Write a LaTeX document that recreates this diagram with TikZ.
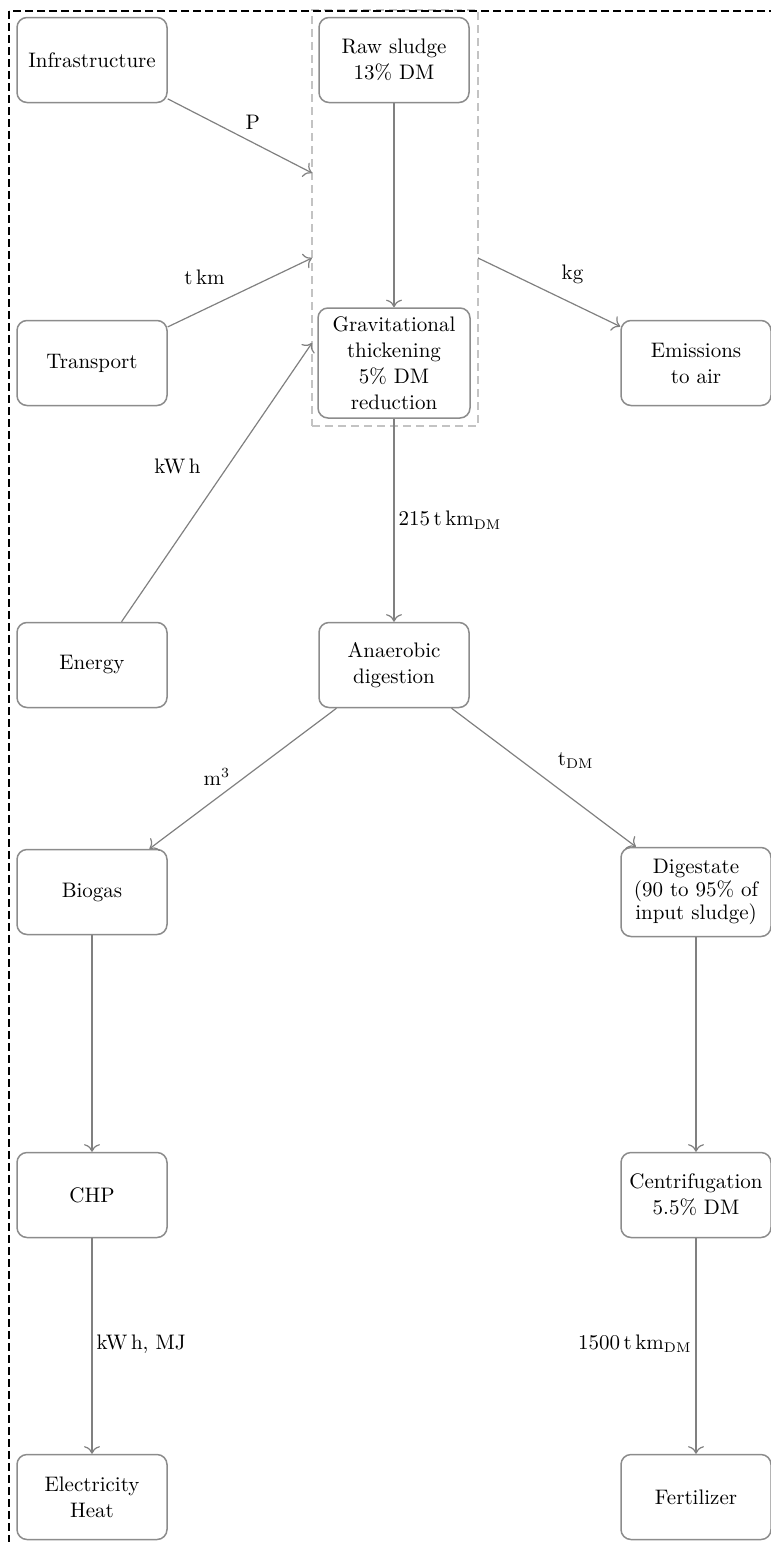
\documentclass[tikz,border=0pt]{standalone}
\usetikzlibrary{arrows.meta}
\definecolor{boxgray}{RGB}{140,140,140}
\definecolor{arrgray}{RGB}{128,128,128}
\definecolor{grpgray}{RGB}{195,195,195}
\begin{document}
\begin{tikzpicture}[x=0.5pt,y=-0.5pt,
  box/.style={draw=boxgray, line width=0.75pt, rounded corners=5pt, fill=white,
    minimum width=75pt, minimum height=42.5pt, align=center,
    inner xsep=2pt, inner ysep=3pt, font=\fontsize{10.5}{13}\selectfont},
  conn/.style={draw=arrgray, line width=0.6pt, -{To[scale=1.3]}},
  lbl/.style={font=\fontsize{10.5}{12}\selectfont, inner sep=2pt},
  grp/.style={draw=grpgray, line width=0.6pt, dash pattern=on 4pt off 2.5pt,
    minimum width=83pt, minimum height=208pt, inner sep=0pt},
  outer/.style={draw=black, line width=0.6pt, dash pattern=on 4pt off 2pt}]
\useasboundingbox (0,0) rectangle (771,1542);
\clip (0,0) rectangle (771,1542);

% group frame
\node[grp] (grp) at (395,218) {};
\draw[outer] (9,11) rectangle (820,1600);

% nodes
\node[box] (infra)  at (92,60)   {Infrastructure};
\node[box] (raw)    at (394,60)  {Raw sludge\\13\% DM};
\node[box, minimum width=76pt, minimum height=55pt] (grav) at (394,363)
  {Gravitational\\thickening\\5\% DM\\reduction};
\node[box] (trans)  at (92,363)  {Transport};
\node[box] (emis)   at (696,363) {Emissions\\to air};
\node[box] (energy) at (92,665)  {Energy};
\node[box] (anae)   at (394,665) {Anaerobic\\digestion};
\node[box] (biogas) at (92,892)  {Biogas};
\node[box, minimum height=44.5pt, font=\fontsize{10.5}{11.5}\selectfont] (dig) at (696,892)
  {Digestate\\(90 to 95\% of\\input sludge)};
\node[box] (chp)    at (92,1195) {CHP};
\node[box] (cent)   at (696,1195) {Centrifugation\\5.5\% DM};
\node[box] (elec)   at (92,1497) {Electricity\\Heat};
\node[box] (fert)   at (696,1497) {Fertilizer};

% free ends on the group frame
\coordinate (g1) at (312,173);
\coordinate (g2) at (312,258);
\coordinate (g3) at (312,343);
\coordinate (g4) at (478,258);

% connectors
\draw[conn] (infra) -- node[lbl, pos=0.59, shift={(0,-20)}] {P} (g1);
\draw[conn] (trans) -- node[lbl, pos=0.255, shift={(0,-32)}] {t\,km} (g2);
\draw[conn] (energy) -- node[lbl, pos=0.556, shift={(-50,0)}] {kW\,h} (g3);
\draw[conn] (g4) -- node[lbl, pos=0.664, shift={(0,-29)}] {kg} (emis);
\draw[conn] (raw) -- (grav);
\draw[conn] (grav) -- node[lbl, pos=0.5, right] {215\,t\,km$_{\mathrm{DM}}$} (anae);
\draw[conn] (anae) -- node[lbl, pos=0.528, shift={(-21,-5)}] {m$^{3}$} (biogas);
\draw[conn] (anae) -- node[lbl, pos=0.5, shift={(32,-17)}] {t$_{\mathrm{DM}}$} (dig);
\draw[conn] (biogas) -- (chp);
\draw[conn] (chp) -- node[lbl, pos=0.49, right] {kW\,h, MJ} (elec);
\draw[conn] (dig) -- (cent);
\draw[conn] (cent) -- node[lbl, pos=0.49, left] {1500\,t\,km$_{\mathrm{DM}}$} (fert);
\end{tikzpicture}
\end{document}
